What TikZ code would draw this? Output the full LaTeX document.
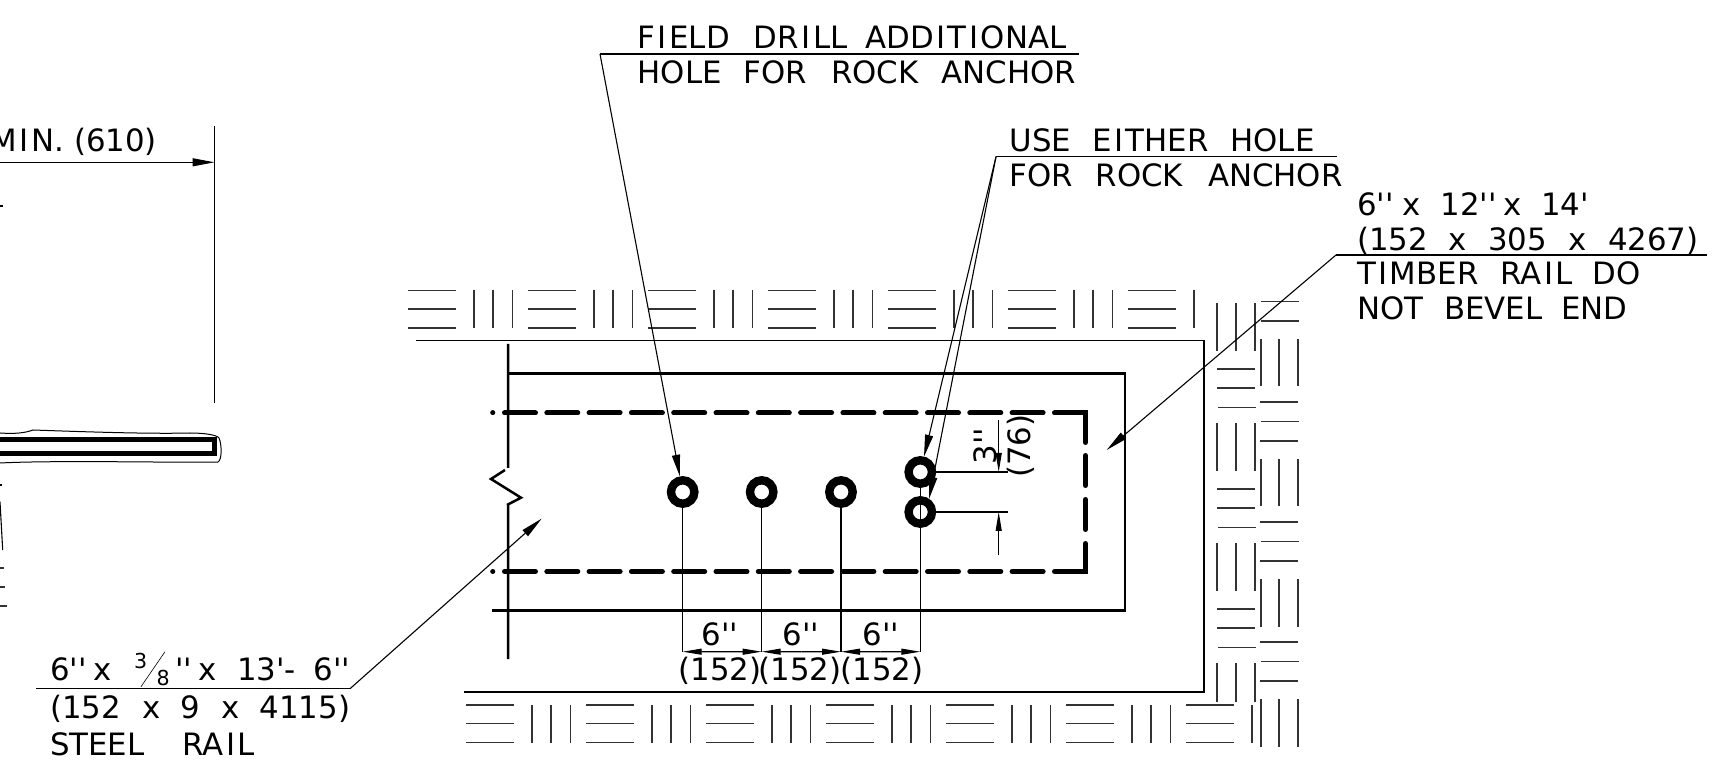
\documentclass[tikz,border=0pt]{standalone}
\usepackage{fontspec}
\usetikzlibrary{arrows.meta,calc}
\newfontfamily\dwgfont{DejaVu Sans}
\newcommand\gapx[1]{\hspace*{\dimexpr #1pt/2\relax}}
\newcommand\Iw{\gapx{2.5}I\gapx{2.5}}
\tikzset{
 x=0.5pt,y=-0.5pt,
 hatchline/.style={line width=0.6pt,black!80},
 thin line/.style={line width=0.55pt},
 thick line/.style={line width=1.25pt},
 rail dash/.style={line width=2.5pt,line cap=round},
 dim tip/.style={-{Stealth[inset=0pt,length=9.5pt,width=3pt]}},
 lead tip/.style={-{Stealth[inset=0pt,length=11pt,width=4pt]}},
 lbl/.style={inner sep=0pt,outer sep=0pt,anchor=base west,font=\dwgfont\fontsize{15.4}{18}\selectfont},
 lblc/.style={lbl,anchor=base},
 small lbl/.style={lbl,font=\dwgfont\fontsize{10.3}{12}\selectfont},
 hole ring/.style={circle,draw,line width=4.2pt,minimum size=11.7pt,inner sep=0pt,outer sep=0pt},
}
\begin{document}
\begin{tikzpicture}
\useasboundingbox (0,0) rectangle (1730,780);
\clip (0,0) rectangle (1730,780);
% hatching
\foreach \k in {0,...,6}{
 \pgfmathsetmacro\xa{408+120*\k}
 \foreach \y in {290.5,309,328} \draw[hatchline] (\xa,\y) -- +(48,0);
 \pgfmathsetmacro\xb{466+120*\k}
 \foreach \y in {705,723.5,742.5} \draw[hatchline] (\xb,\y) -- +(48,0);
}
\foreach \k in {0,...,5}{
 \foreach \d in {474,493,512.7} \draw[hatchline] ({\d+120*\k},290) -- +(0,38);
 \foreach \d in {532,551,570.3} \draw[hatchline] ({\d+120*\k},705) -- +(0,38);
}
\draw[hatchline] (1194,290) -- +(0,38);
\draw[hatchline] (1252,705) -- +(0,38);
\foreach \y in {303,423,543,663}{\foreach \d in {1217,1236,1255} \draw[hatchline] (\d,\y) -- (\d,{min(\y+48,702)});}
\foreach \y in {339,459,579,699}{\foreach \d in {1261,1279,1298} \draw[hatchline] (\d,\y) -- +(0,47.5);}
\foreach \y in {369,489,609}{
 \draw[hatchline] (1217,\y) -- +(38,0);
 \draw[hatchline] (1217,\y+19) -- +(38,0);
 \draw[hatchline] (1218,\y+38.5) -- +(38,0);}
\draw[hatchline] (1261,301.7) -- +(38,0);
\draw[hatchline] (1261,321) -- +(38,0);
\foreach \y in {402,522,642}{
 \draw[hatchline] (1260,\y) -- +(38,0);
 \draw[hatchline] (1261,\y+19.5) -- +(38,0);
 \draw[hatchline] (1260,\y+39) -- +(38,0);}
% rock outline
\draw[thin line] (416,340.7) -- (1204,340.7) -- (1204,692) -- (464,692);
% timber
\draw[thick line] (508,344) -- (508,468) (505,470) -- (491,479) -- (521,497.7) -- (507,505) (508,505) -- (508,659);
\draw[thick line,line join=miter] (508,373.7) -- (1125,373.7) -- (1125,610.7) -- (492,610.7);
% steel rail, hidden
\draw[rail dash] (492.7,413) -- +(0.1,0);
\draw[rail dash] (492.7,571.5) -- +(0.1,0);
\foreach \k in {0,...,12}{
 \draw[rail dash] ({504.5+42.3*\k},413) -- +(31,0);
 \draw[rail dash] ({504.5+42.3*\k},571.5) -- +(31,0);
}
\draw[rail dash,line join=miter] (1054.5,413) -- (1085.5,413) -- (1085.5,442.5);
\draw[rail dash] (1085.5,455.5) -- (1085.5,485.5);
\draw[rail dash] (1085.5,499.5) -- (1085.5,529.5);
\draw[rail dash,line join=miter] (1085.5,543.5) -- (1085.5,571.5) -- (1054.5,571.5);
% holes
\node[hole ring] (h1) at (682.7,492) {};
\node[hole ring] (h2) at (761.7,492) {};
\node[hole ring] (h3) at (841,492) {};
\node[hole ring] (h4) at (920.3,472) {};
\node[hole ring] (h5) at (920.3,512) {};
% dimensions below
\coordinate (d1) at (682.7,651.7);
\coordinate (d2) at (761.7,651.7);
\coordinate (d3) at (841,651.7);
\coordinate (d4) at (920.3,651.7);
\draw[thin line] (h1.south) -- (d1);
\draw[thin line] (h2.south) -- (d2);
\draw[thin line] (h3.south) -- (d3);
\draw[thin line] (h4.south) -- (d4);
\foreach \a/\b in {d1/d2,d2/d3,d3/d4}{
 \draw[thin line,dim tip] ($(\a)!0.5!(\b)$) -- (\a);
 \draw[thin line,dim tip] ($(\a)!0.5!(\b)$) -- (\b);
}
\node[lblc] (t6a) at (720,645) {6''};
\node[lblc] (t6b) at (801,645) {6''};
\node[lblc] (t6c) at (881,645) {6''};
\node[lblc] (m1) at (720,680.7) {(152)};
\node[lblc] (m2) at (800,680.7) {(152)};
\node[lblc] (m3) at (882,680.7) {(152)};
% 3 inch dim
\coordinate (e1) at (1008,472);
\coordinate (e2) at (1008,512);
\coordinate (v1) at (998.7,420);
\coordinate (v2) at (998.7,555);
\draw[thin line] (h4.east) -- (e1);
\draw[thin line] (h5.east) -- (e2);
\draw[thin line,dim tip] (v1) -- (998.7,472);
\draw[thin line,dim tip] (v2) -- (998.7,512);
\node[lbl,anchor=base,rotate=90] (t3) at (996,446) {3''};
\node[lbl,anchor=base,rotate=90] (t76) at (1030,446) {(76)};
% left detail
\coordinate (la) at (0,162.3);
\coordinate (lb) at (214.5,162.3);
\draw[thin line] (214.5,125.7) -- (214.5,403.3);
\draw[thin line,lead tip] (la) -- (lb);
\node[lbl,anchor=base east] (tmin) at (157,151.7) {M\Iw N. (610)};
\draw[line width=2.5pt,line join=miter] (0,440) -- (214.5,440) -- (214.5,453.5) -- (0,453.5);
\draw[line width=0.5pt] (0,433) .. controls (15,434) and (25,433) .. (33,430) .. controls (90,432) and (150,434) .. (190,433) .. controls (205,433) and (217,435) .. (219,438) .. controls (222,445) and (222,460) .. (218,462) .. controls (180,463) and (60,460) .. (0,463);
\draw[thin line] (0,206) -- (3,206);
\draw[thin line] (0,485) -- (1.5,485);
\draw[thin line] (0,501.7) -- (2.7,550);
\draw[hatchline] (0,568) -- (4,568);
\draw[hatchline] (0,587) -- (5,587);
\draw[hatchline] (0,606) -- (7,606);
% leaders
\coordinate (s1a) at (600,54); \coordinate (s1b) at (1079,54);
\draw[thin line] (s1b) -- (s1a);
\draw[thin line,lead tip] (s1a) -- (680,476.7);
\node[lbl] (f1) at (637.7,48.5) {F\Iw ELD\gapx{24}DR\Iw LL\gapx{18}ADD\Iw T\Iw ONAL};
\node[lbl] (f2) at (637.7,84) {HOLE\gapx{22}FOR\gapx{24}ROCK\gapx{23}ANCHOR};
\coordinate (s2a) at (996,156.7); \coordinate (s2b) at (1337,156.7);
\draw[thin line] (s2b) -- (s2a);
\draw[thin line,lead tip] (s2a) -- (924,456.7);
\draw[thin line,lead tip] (s2a) -- (929,499);
\node[lbl] (u1) at (1009.5,152) {USE\gapx{21}E\Iw THER\gapx{22}HOLE};
\node[lbl] (u2) at (1009.5,186.5) {FOR\gapx{23}ROCK\gapx{25}ANCHOR};
\coordinate (s3a) at (1336,255); \coordinate (s3b) at (1707,255);
\draw[thin line] (s3b) -- (s3a);
\draw[thin line,lead tip] (s3a) -- (1106.7,450);
\node[lbl] (r1) at (1357,216) {6''\gapx{9}x\gapx{20}12''\gapx{7}x\gapx{19}14'};
\node[lbl] (r2) at (1357,250.5) {(152\gapx{21}x\gapx{21}305\gapx{22}x\gapx{21}4267)};
\node[lbl] (r3) at (1357,284.6) {T\Iw MBER\gapx{22}RA\Iw L\gapx{20}DO};
\node[lbl] (r4) at (1357,320) {NOT\gapx{21}BEVEL\gapx{19}END};
\coordinate (s4a) at (350,688.7); \coordinate (s4b) at (36,688.7);
\draw[thin line] (s4b) -- (s4a);
\draw[thin line,lead tip] (s4a) -- (541.7,518.6);
\node[lbl] (b1) at (50,680.7) {6''\gapx{7}x};
\node[small lbl] (b1n) at (134,668) {3};
\node[small lbl] (b1d) at (156.5,685) {8};
\draw[line width=0.3pt] (141,686.7) -- (165,651.7);
\node[lbl] (b1e) at (175,680.7) {''\gapx{7}x\gapx{20}13'-\gapx{18}6''};
\node[lbl] (b2) at (50,718) {(152\gapx{21.5}x\gapx{20.5}9\gapx{20.5}x\gapx{20.5}4115)};
\node[lbl] (b3) at (50,755) {STEEL\gapx{38}RA\Iw L};
\end{tikzpicture}
\end{document}
